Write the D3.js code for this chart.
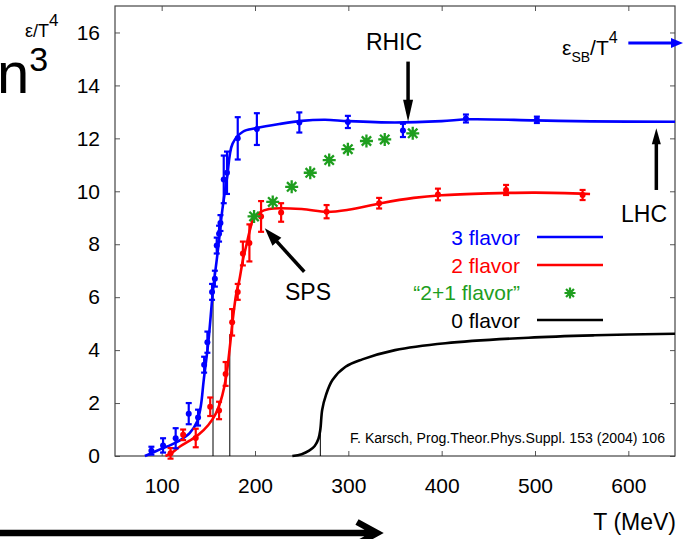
<!DOCTYPE html>
<html>
<head>
<meta charset="utf-8">
<script src="https://cdn.jsdelivr.net/npm/d3@7"></script>
<style>
  body { margin: 0; background: #fff; }
  svg { display: block; font-family: "Liberation Sans", Arial, sans-serif; }
</style>
</head>
<body>
<div id="chart"></div>
<script>
// [T (MeV), eps/T^4, error]
var flavor3Points = [
    [89, 0.2, 0.15], [101.5, 0.4, 0.27], [115, 0.67, 0.38], [129, 1.6, 0.4],
    [139, 1.45, 0.3], [145.5, 3.45, 0.3], [149, 4.3, 0.4], [154, 6.2, 0.3],
    [157, 6.7, 0.3], [159, 7.95, 0.3], [161.5, 8.4, 0.3], [163, 8.8, 0.3],
    [166.5, 10.45, 0.9], [170, 10.7, 0.8], [181.5, 12.0, 0.8], [202, 12.35, 0.6],
    [247.5, 12.6, 0.38], [299.5, 12.62, 0.23], [358.5, 12.3, 0.25], [426, 12.75, 0.15],
    [502, 12.7, 0.12]
];
var flavor2Points = [
    [109.5, 0.1, 0.2], [123, 0.8, 0.2], [136.5, 0.68, 0.35], [152, 1.86, 0.35],
    [161.5, 1.72, 0.33], [168.5, 3.1, 0.45], [175.5, 5.05, 0.5], [181.5, 6.2, 0.3],
    [187, 7.65, 0.45], [194, 8.05, 0.7], [206.5, 9.05, 0.58], [228, 9.2, 0.35],
    [276.7, 9.23, 0.25], [333, 9.55, 0.2], [396, 9.88, 0.22], [469, 10.05, 0.19],
    [551, 9.86, 0.19]
];
var flavor21Points = [
    [199, 9.05], [219, 9.6], [239.3, 10.17], [259.2, 10.7], [279.5, 11.18],
    [299.5, 11.59], [319.4, 11.9], [339, 11.96], [369, 12.19]
];
var flavor3Curve = [
    [82, 0], [90, 0.12], [100, 0.28], [110, 0.42], [120, 0.6], [130, 0.86],
    [138, 1.3], [142, 1.9], [145, 2.85], [150, 4.3], [155, 6.25], [160, 7.7],
    [165, 9.3], [170, 10.5], [176, 11.8], [187, 12.25], [201, 12.38], [226, 12.54],
    [250, 12.66], [275, 12.7], [300, 12.65], [350, 12.6], [400, 12.65], [430, 12.72],
    [500, 12.68], [560, 12.64], [650, 12.63]
];
var flavor2Curve = [
    [104, 0], [110, 0.1], [120, 0.37], [130, 0.58], [140, 0.82], [150, 1.17],
    [158, 1.6], [163, 2.05], [167, 2.6], [170, 3.2], [173, 4.1], [176, 5.1],
    [180, 6.15], [183, 6.6], [187, 7.4], [191, 8.0], [195, 8.6], [198, 8.95],
    [205, 9.2], [215, 9.33], [250, 9.33], [277, 9.22], [300, 9.3], [335, 9.55],
    [370, 9.75], [400, 9.85], [450, 9.92], [500, 9.95], [559, 9.9]
];
var flavor0Curve = [
    [240, 0], [250, 0.07], [258, 0.2], [264, 0.38], [268, 0.65], [270, 1.0],
    [272, 1.75], [276, 2.3], [283, 2.87], [297, 3.37], [315, 3.65], [350, 4.0],
    [404, 4.26], [493, 4.47], [564, 4.56], [650, 4.62]
];
var tcLines = [[155, 6.2], [173, 4.6], [270, 1.0]];   // [Tc, top]
var xTicks = [100, 200, 300, 400, 500, 600];
var yTicks = [0, 2, 4, 6, 8, 10, 12, 14, 16];
var legendLabels = ["3 flavor", "2 flavor", "\u201C2+1 flavor\u201D", "0 flavor"];
var legendColors = ["#0000ff", "#ff0000", "#1e9e1e", "#000000"];

var width = 683, height = 539;
var blue = "#0000ff", red = "#ff0000", green = "#1e9e1e";

var x = d3.scaleLinear().domain([50, 650]).range([115, 675]);
var y = d3.scaleLinear().domain([0, 17]).range([456, 6]);

var svg = d3.select("#chart").append("svg")
        .attr("width", width)
        .attr("height", height);

// axes, ticks pointing inwards
function styleAxis(g) {
    g.attr("font-family", null).attr("font-size", null);
    g.select(".domain").remove();
    g.selectAll(".tick line").attr("stroke", "#555");
    g.selectAll(".tick text").attr("fill", "#000").style("font-size", "21px");
}
svg.append("g")
        .attr("transform", "translate(" + x.range()[0] + ",0)")
        .call(d3.axisLeft(y).tickValues(yTicks).tickSize(-5).tickPadding(15))
        .call(styleAxis);
svg.append("g")
        .attr("transform", "translate(" + x.range()[1] + ",0)")
        .call(d3.axisRight(y).tickValues(yTicks).tickSize(-5).tickFormat(""))
        .call(styleAxis);
svg.append("g")
        .attr("transform", "translate(0," + y.range()[0] + ")")
        .call(d3.axisBottom(x).tickValues(xTicks).tickSize(-5).tickPadding(22))
        .call(styleAxis);
svg.append("g")
        .attr("transform", "translate(0," + y.range()[1] + ")")
        .call(d3.axisTop(x).tickValues(xTicks).tickSize(-5).tickFormat(""))
        .call(styleAxis);

svg.append("rect")
        .attr("x", x.range()[0]).attr("y", y.range()[1])
        .attr("width", x.range()[1] - x.range()[0])
        .attr("height", y.range()[0] - y.range()[1])
        .attr("fill", "none").attr("stroke", "#444").attr("stroke-width", 1.2);

// thin Tc lines
svg.selectAll("line.tc").data(tcLines).enter().append("line")
        .attr("class", "tc")
        .attr("x1", function(d) { return x(d[0]); })
        .attr("x2", function(d) { return x(d[0]); })
        .attr("y1", y(0))
        .attr("y2", function(d) { return y(d[1]); })
        .attr("stroke", "#000").attr("stroke-width", 1);

var line = d3.line()
        .x(function(d) { return x(d[0]); })
        .y(function(d) { return y(d[1]); })
        .curve(d3.curveCatmullRom.alpha(0.5));

function drawCurve(data, color) {
    svg.append("path").datum(data)
            .attr("d", line)
            .attr("fill", "none")
            .attr("stroke", color)
            .attr("stroke-width", 2.6);
}
drawCurve(flavor0Curve, "#000");
drawCurve(flavor2Curve, red);
drawCurve(flavor3Curve, blue);

function drawErrors(data, color) {
    var g = svg.append("g").attr("stroke", color).attr("stroke-width", 2.2);
    data.forEach(function(d) {
        var cx = x(d[0]), top = y(d[1] + d[2]), bot = y(d[1] - d[2]);
        g.append("line").attr("x1", cx).attr("x2", cx).attr("y1", top).attr("y2", bot);
        g.append("line").attr("x1", cx - 3).attr("x2", cx + 3).attr("y1", top).attr("y2", top);
        g.append("line").attr("x1", cx - 3).attr("x2", cx + 3).attr("y1", bot).attr("y2", bot);
    });
    svg.append("g").selectAll("circle").data(data).enter().append("circle")
            .attr("cx", function(d) { return x(d[0]); })
            .attr("cy", function(d) { return y(d[1]); })
            .attr("r", 3)
            .attr("fill", color);
}
drawErrors(flavor2Points, red);
drawErrors(flavor3Points, blue);

function starPath(cx, cy, s) {
    var k = s * 0.72;
    return "M" + (cx - s) + "," + cy + "H" + (cx + s) +
           "M" + cx + "," + (cy - s) + "V" + (cy + s) +
           "M" + (cx - k) + "," + (cy - k) + "L" + (cx + k) + "," + (cy + k) +
           "M" + (cx - k) + "," + (cy + k) + "L" + (cx + k) + "," + (cy - k);
}
svg.append("g").selectAll("path").data(flavor21Points).enter().append("path")
        .attr("d", function(d) { return starPath(x(d[0]), y(d[1]), 6.5); })
        .attr("stroke", green).attr("stroke-width", 2.3).attr("fill", "none");

// arrows
function arrow(x1, y1, x2, y2, color, w, headLen, headW) {
    var dx = x2 - x1, dy = y2 - y1, len = Math.sqrt(dx * dx + dy * dy);
    var ux = dx / len, uy = dy / len;
    var bx = x2 - ux * headLen, by = y2 - uy * headLen;
    svg.append("line")
            .attr("x1", x1).attr("y1", y1).attr("x2", bx + ux * 2).attr("y2", by + uy * 2)
            .attr("stroke", color).attr("stroke-width", w);
    svg.append("path")
            .attr("d", "M" + x2 + "," + y2 +
                    "L" + (bx - uy * headW) + "," + (by + ux * headW) +
                    "L" + (bx + uy * headW) + "," + (by - ux * headW) + "Z")
            .attr("fill", color);
}
arrow(x(364), y(14.9), x(364), y(12.63), "#000", 3.5, 22, 5);   // RHIC
arrow(x(630), y(10.05), x(630), y(12.38), "#000", 3.5, 16, 4.5); // LHC
arrow(x(252.8), y(6.96), x(210.5), y(8.6), "#000", 3.5, 18, 6);  // SPS
arrow(x(600), y(15.6), 683, y(15.6), blue, 3, 12, 5);            // eps_SB

// big arrow along the bottom
svg.append("path")
        .attr("d", "M0,533H375M357,522L377,533L357,544")
        .attr("fill", "none").attr("stroke", "#000").attr("stroke-width", 6.5)
        .attr("stroke-linejoin", "miter");

// labels
function label(txt, lx, ly, size, anchor, color) {
    return svg.append("text")
            .attr("x", lx).attr("y", ly)
            .attr("font-size", size)
            .attr("text-anchor", anchor || "start")
            .attr("fill", color || "#000")
            .text(txt);
}
label("RHIC", 394, 50, 23, "middle");
label("LHC", 644, 222, 23, "middle");
label("SPS", 308, 300, 23, "middle");
label("T (MeV)", 676, 530, 23, "end");
label("F. Karsch, Prog.Theor.Phys.Suppl. 153 (2004) 106", 350, 443, 14)
        .attr("textLength", 315).attr("lengthAdjust", "spacingAndGlyphs");

var yl = svg.append("text").attr("x", 25).attr("y", 37).attr("font-size", 18).attr("fill", "#000");
yl.append("tspan").text("\u03B5/T");
yl.append("tspan").attr("dy", -11).attr("font-size", 17).text("4");

var sb = svg.append("text").attr("x", 562).attr("y", 55).attr("font-size", 21).attr("fill", "#000");
sb.append("tspan").text("\u03B5");
sb.append("tspan").attr("dy", 7).attr("font-size", 14).text("SB");
sb.append("tspan").attr("dy", -7).text("/T");
sb.append("tspan").attr("dy", -12).attr("font-size", 16).text("4");

var n3 = svg.append("text").attr("x", -3).attr("y", 93).attr("font-size", 58).attr("fill", "#000");
n3.append("tspan").text("n");
n3.append("tspan").attr("dy", -22).attr("font-size", 34).text("3");

// legend
var legendY = [245, 273, 300, 328];
legendLabels.forEach(function(t, i) {
    label(t, 520, legendY[i], 21, "end", legendColors[i]);
    if (i === 2) {
        svg.append("path").attr("d", starPath(570, legendY[i] - 7, 5.5))
                .attr("stroke", green).attr("stroke-width", 2.2).attr("fill", "none");
    } else {
        svg.append("line")
                .attr("x1", 537).attr("x2", 603)
                .attr("y1", legendY[i] - 8).attr("y2", legendY[i] - 8)
                .attr("stroke", legendColors[i]).attr("stroke-width", 2.6);
    }
});
</script>
</body>
</html>
